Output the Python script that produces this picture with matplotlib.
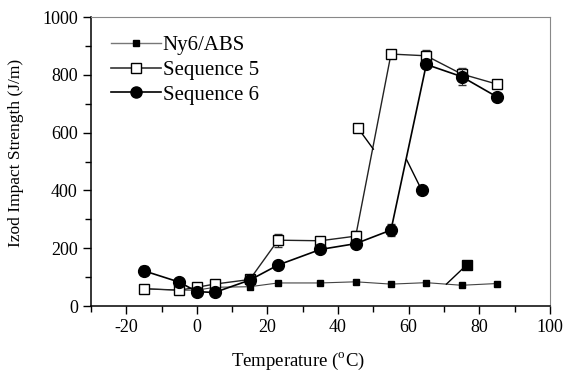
import matplotlib
matplotlib.use("Agg")
import matplotlib.pyplot as plt
from matplotlib.lines import Line2D

plt.rcParams['font.family'] = ['Liberation Serif', 'DejaVu Serif']
plt.rcParams['mathtext.fontset'] = 'custom'
plt.rcParams['mathtext.rm'] = 'Liberation Serif'
plt.rcParams['axes.unicode_minus'] = False

# Data
temps = [-15, -5, 0, 5, 15, 23, 35, 45, 55, 65, 75, 85]
ny6_abs = [60, 55, 55, 65, 67, 80, 80, 84, 76, 81, 72, 78]
seq5 = [60, 55, 65, 76, 92, 228, 226, 242, 872, 866, 803, 768]
seq5_err = [12, 0, 0, 12, 0, 22, 10, 18, 0, 20, 18, 0]
seq6 = [122, 83, 50, 47, 90, 142, 196, 216, 263, 836, 794, 724]
seq6_err = [15, 0, 0, 0, 0, 0, 0, 0, 22, 0, 30, 0]

# in-plot tag markers and where their leader lines touch the curves
tag_x = [45.7, 63.7, 76.4]
tag_y = [615, 401, 142]
lead_x = [50.0, 59.4, 70.7]
lead_y = [543, 507, 76]

fig = plt.figure(figsize=(5.63, 3.71), dpi=100)
ax = fig.add_axes([0.1616, 0.175, 0.815, 0.779])

ax.plot(temps, ny6_abs, color='#444444', lw=0.8, marker='s', ms=4.5,
        mfc='black', mec='black', zorder=2)
ax.errorbar(temps, seq5, yerr=seq5_err, color='#222222', lw=1.0, marker='s', ms=7,
            mfc='white', mec='black', mew=1.0, ecolor='#333333', elinewidth=0.8,
            capsize=3, zorder=3)
ax.errorbar(temps, seq6, yerr=seq6_err, color='black', lw=1.2, marker='o', ms=8.5,
            mfc='black', mec='black', ecolor='#333333', elinewidth=0.8,
            capsize=3, zorder=4)

# tag markers with leader lines
styles = [dict(marker='s', ms=7, mfc='white', mec='black'),
          dict(marker='o', ms=8.5, mfc='black', mec='black'),
          dict(marker='s', ms=7.5, mfc='black', mec='black')]
for tx, ty, lx, ly, st in zip(tag_x, tag_y, lead_x, lead_y, styles):
    ax.plot([tx, lx], [ty, ly], color='black', lw=1.0, zorder=5)
    ax.plot([tx], [ty], ls='none', zorder=6, **st)

ax.set_xlim(-30, 100)
ax.set_ylim(0, 1000)
ax.set_xticks([-20, 0, 20, 40, 60, 80, 100])
ax.set_xticks(range(-30, 101, 10), minor=True)
ax.set_yticks(range(0, 1001, 200))
ax.set_yticks(range(0, 1001, 100), minor=True)
ax.tick_params(which='both', direction='out', top=False, right=False,
               labelsize=13, width=1.0)
ax.tick_params(which='major', length=6)
ax.tick_params(which='minor', length=4)
for s in ['top', 'right']:
    ax.spines[s].set_color('#888888')
for s in ['left', 'bottom']:
    ax.spines[s].set_linewidth(1.1)

ax.set_xlabel('Temperature ($^{\\rm o}$C)', fontsize=13.5)
ax.xaxis.set_label_coords(0.452, -0.155)
ax.set_ylabel('Izod Impact Strength (J/m)', fontsize=12.5)
ax.yaxis.set_label_coords(-0.145, 0.53)

handles = [
    Line2D([], [], color='#777777', lw=1.0, marker='s', ms=5, mfc='black', mec='black'),
    Line2D([], [], color='#333333', lw=1.2, marker='s', ms=7, mfc='white', mec='black'),
    Line2D([], [], color='black', lw=1.2, marker='o', ms=8, mfc='black', mec='black'),
]
labels = ['Ny6/ABS', 'Sequence 5', 'Sequence 6']
ax.legend(handles, labels, loc='upper left', frameon=False, fontsize=15,
          handlelength=2.4, handletextpad=0.1, labelspacing=0.25,
          borderaxespad=0.0, bbox_to_anchor=(0.025, 0.965))

fig.savefig('out.png', dpi=100)
